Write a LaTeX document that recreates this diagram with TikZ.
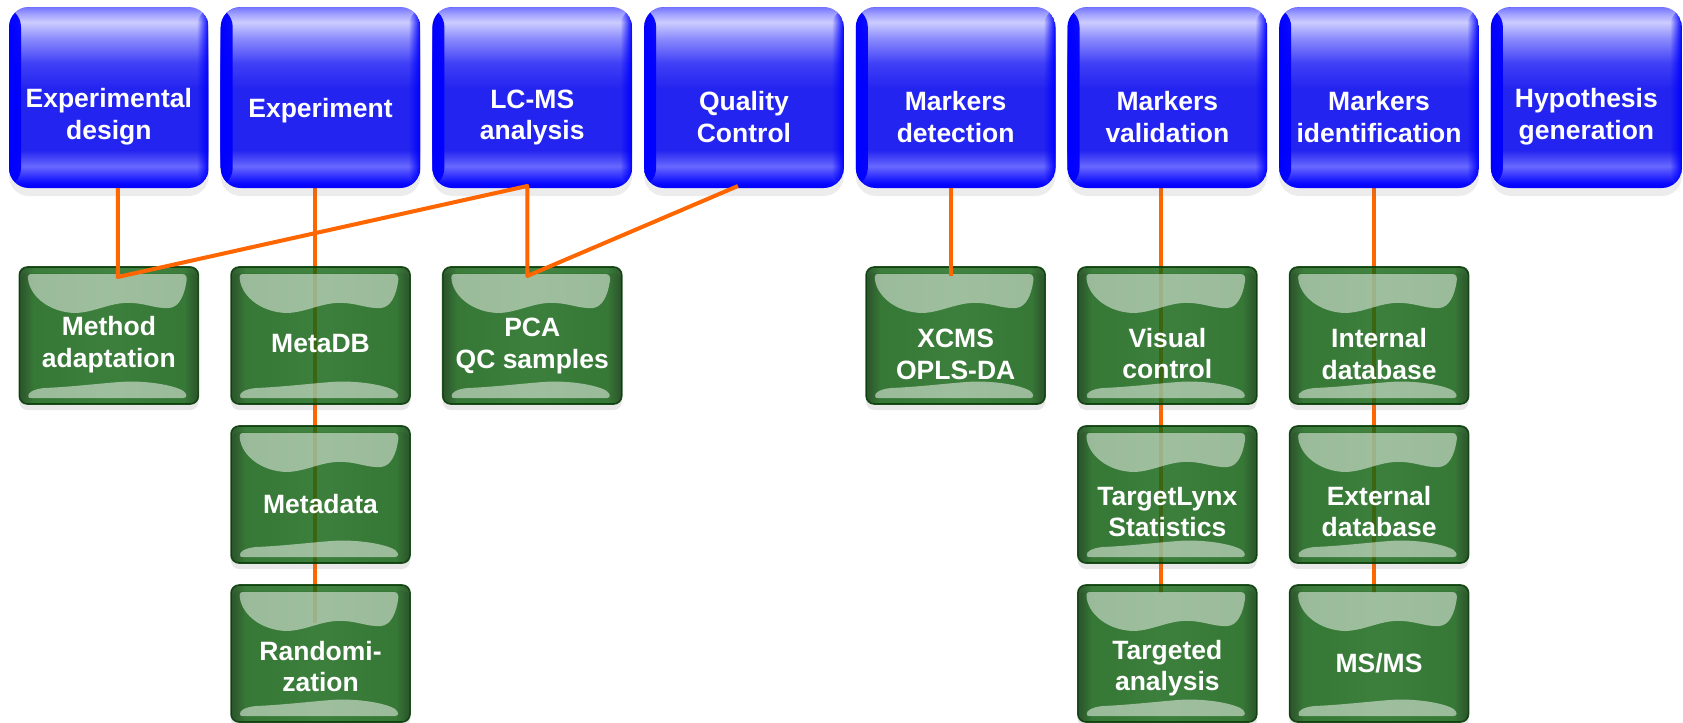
\documentclass[tikz,border=0pt]{standalone}
\usepackage{fontspec}
\setmainfont{Liberation Sans}
\usetikzlibrary{positioning,shadows,fadings}

\definecolor{linkorange}{RGB}{255,102,0}
\definecolor{blueedge}{RGB}{0,0,255}
\definecolor{greenedge}{RGB}{10,62,10}

\pgfdeclareverticalshading{bluegloss}{100bp}{%
  rgb(0bp)=(0,0,1); rgb(25bp)=(0,0,1); rgb(26.4bp)=(.04,.04,1);
  rgb(31bp)=(.41,.41,1); rgb(35.5bp)=(.14,.14,.94); rgb(52.5bp)=(.14,.14,.94);
  rgb(59.5bp)=(.25,.25,.97); rgb(66.4bp)=(.55,.55,.99); rgb(70.8bp)=(.8,.8,1);
  rgb(73.1bp)=(.63,.63,1); rgb(75bp)=(.45,.45,1); rgb(100bp)=(.45,.45,1)}
\pgfdeclarehorizontalshading{greenbody}{100bp}{%
  rgb(0bp)=(0,.187,0); rgb(25bp)=(0,.187,0); rgb(26.1bp)=(0,.226,0);
  rgb(28.9bp)=(.04,.359,.04); rgb(50bp)=(.07,.393,.07); rgb(71.1bp)=(.04,.359,.04);
  rgb(73.9bp)=(0,.226,0); rgb(75bp)=(0,.187,0); rgb(100bp)=(0,.187,0)}

\tikzfading[name=glowleft, left color=transparent!0, right color=transparent!100]
\tikzfading[name=glowright, left color=transparent!100, right color=transparent!0]

\pgfdeclarelayer{back}
\pgfsetlayers{back,main}

\newcommand{\boxfont}{\bfseries\fontsize{13.25}{15.75}\selectfont}
\newcommand{\lift}[1][29pt]{\rule{0pt}{#1}}

\begin{document}
\begin{tikzpicture}[x=.5pt,y=-.5pt,node distance=6pt,
    bluebox/.style={shade,shading=bluegloss,rounded corners=10pt,minimum width=99.85pt,
      minimum height=90.5pt,inner sep=0pt,outer sep=0pt,text=white,align=center,font=\boxfont,
      drop shadow={shadow xshift=0pt,shadow yshift=-4pt,opacity=.15},
      path picture={
        \fill[blueedge,path fading=glowleft] (path picture bounding box.south west)
          rectangle ([xshift=6pt]path picture bounding box.north west);
        \fill[blueedge,path fading=glowright] ([xshift=-6pt]path picture bounding box.south east)
          rectangle (path picture bounding box.north east);}},
    greenbox/.style={shade,shading=greenbody,fill opacity=.8,text opacity=1,draw=greenedge,
      draw opacity=.9,line width=.8pt,rounded corners=4pt,minimum width=89.5pt,minimum height=68.5pt,
      inner sep=0pt,outer sep=0pt,text=white,align=center,font=\boxfont,
      drop shadow={shadow xshift=0pt,shadow yshift=-3pt,opacity=.18}},
    hilite/.style={white,fill opacity=.5},
    link/.style={draw=linkorange,line width=2pt,line join=round}]

    \useasboundingbox (0,0) rectangle (1683,723);

    % steps
    \node[bluebox] (design) at (108.85,97.5) {\lift Experimental\\design};
    \node[bluebox,right=of design] (experiment) {\lift[22.7pt]Experiment};
    \node[bluebox,right=of experiment] (lcms) {\lift LC-MS\\analysis};
    \node[bluebox,right=of lcms] (quality) {\lift Quality\\Control};
    \node[bluebox,right=of quality] (detection) {\lift Markers\\detection};
    \node[bluebox,right=of detection] (validation) {\lift Markers\\validation};
    \node[bluebox,right=of validation] (identif) {\lift Markers\\identification};
    \node[bluebox,right=of identif,minimum width=95.5pt] (hypothesis) {\lift Hypothesis\\generation};

    % tools
    \node[greenbox,below=39.5pt of design] (method) {\lift[18.7pt]Method\\adaptation};
    \node[greenbox,below=39.5pt of experiment] (metadb) {\lift[17.2pt]MetaDB};
    \node[greenbox,below=11pt of metadb] (metadata) {\lift[18.7pt]Metadata};
    \node[greenbox,below=11pt of metadata] (random) {\lift[22.7pt]Randomi-\\zation};
    \node[greenbox,below=39.5pt of lcms] (pca) {\lift[19.7pt]PCA\\QC samples};
    \node[greenbox,below=39.5pt of detection] (xcms) {\lift[28.2pt]XCMS\\OPLS-DA};
    \node[greenbox,below=39.5pt of validation] (visual) {\lift[27.7pt]Visual\\control};
    \node[greenbox,below=11pt of visual] (tlynx) {\lift[26.7pt]TargetLynx\\Statistics};
    \node[greenbox,below=11pt of tlynx] (targeted) {\lift[24.2pt]Targeted\\analysis};
    \node[greenbox,below=39.5pt of identif] (internal) {\lift[28.2pt]Internal\\database};
    \node[greenbox,below=11pt of internal] (external) {\lift[26.7pt]External\\database};
    \node[greenbox,below=11pt of external] (msms) {\lift[19.7pt]MS/MS};

    % glossy highlights
    \foreach \g in {method,metadb,metadata,random,pca,xcms,visual,tlynx,targeted,internal,external,msms}{
        \fill[hilite,shift={(\g.north west)}] (12,7) -- (163,7) .. controls (167,7) and (168,11) .. (167,15)
            .. controls (165,28) and (160,40) .. (150,41) .. controls (135,42) and (125,35) .. (105,36)
            .. controls (88,37) and (72,46) .. (55,46) .. controls (30,45) and (12,30) .. (9,14)
            .. controls (8,9) and (9,7) .. (12,7) -- cycle;
        \fill[hilite,shift={(\g.north west)}] (12,131) -- (164,131) .. controls (168,131) and (168,127) .. (164,124)
            .. controls (155,118) and (125,113) .. (100,115) .. controls (75,117) and (50,120) .. (25,121)
            .. controls (14,122) and (8,126) .. (9,129) .. controls (9,131) and (10,131) .. (12,131) -- cycle;
    }

    \begin{pgfonlayer}{back}
    \path[link]
        ([xshift=-3pt]experiment.south) edge ([xshift=-3pt,yshift=-19pt]random.north)
        ([xshift=-3pt]validation.south) edge ([xshift=-3pt,yshift=-4pt]targeted.north)
        ([xshift=-2.5pt]identif.south) edge ([xshift=-2.5pt,yshift=-4pt]msms.north);
    \end{pgfonlayer}

    \draw[link] ([xshift=4.5pt]design.south) -- ([xshift=4.5pt,yshift=-5pt]method.north)
        -- ([xshift=-2.5pt,yshift=1pt]lcms.south) -- ([xshift=-2.5pt,yshift=-4.5pt]pca.north)
        -- ([xshift=-3pt,yshift=1pt]quality.south);
    \path[link] ([xshift=-2.5pt]detection.south) edge ([xshift=-2.5pt,yshift=-4.5pt]xcms.north);
\end{tikzpicture}
\end{document}
